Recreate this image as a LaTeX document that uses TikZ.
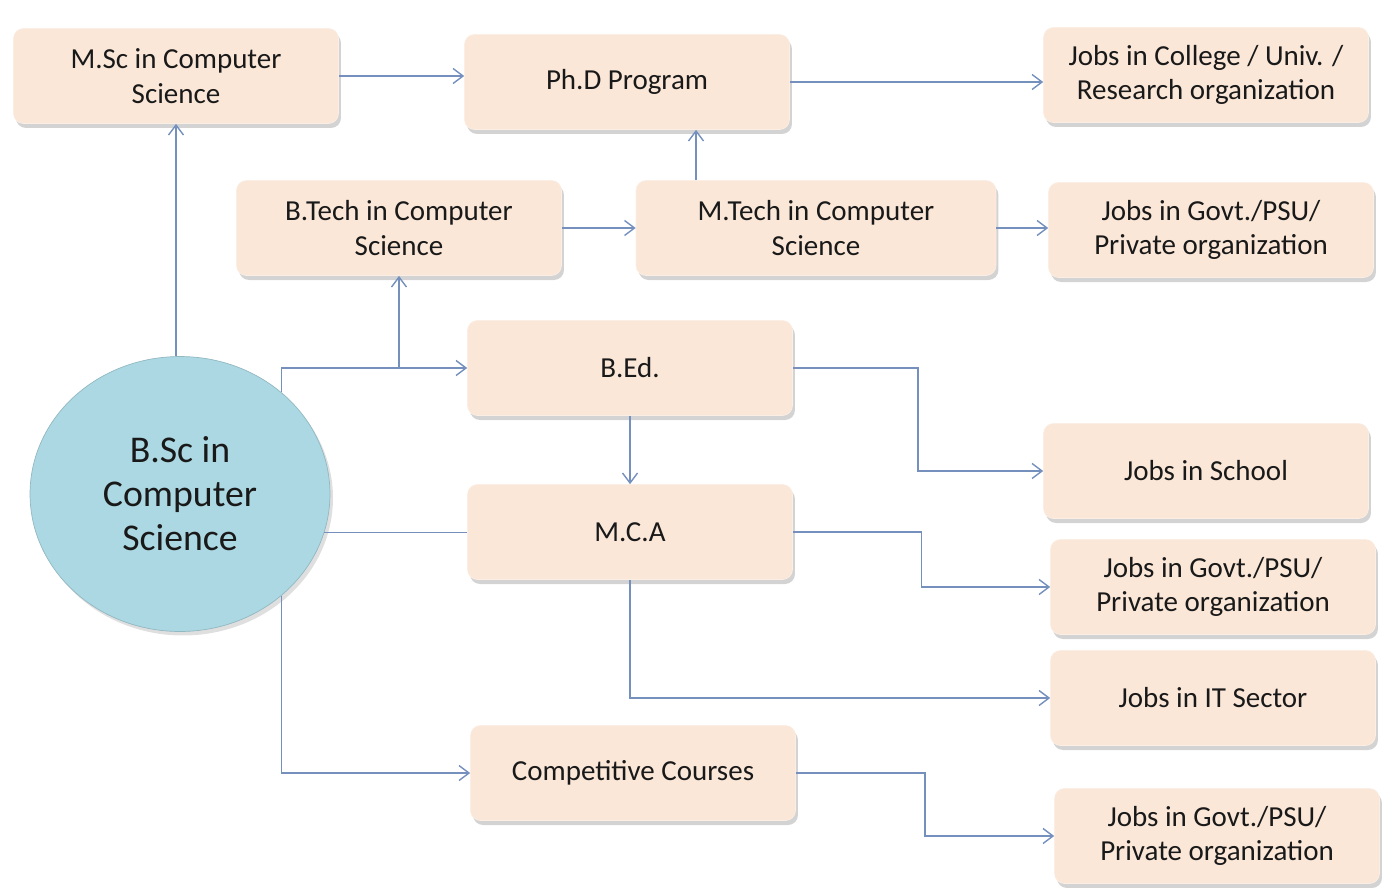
\documentclass[tikz,border=0pt]{standalone}
\usepackage{fontspec}
\setmainfont{Carlito}
\usetikzlibrary{shapes.geometric}
\usetikzlibrary{arrows.meta,calc,shadows}
\definecolor{peach}{RGB}{250,231,216}
\definecolor{skyball}{RGB}{172,216,227}
\definecolor{wire}{RGB}{118,144,190}

\begin{document}
\begin{tikzpicture}
[x=0.02cm,y=-0.02cm,
block/.style ={rectangle, fill=peach, draw=peach!70!white, rounded corners=0.2cm,
minimum width=6.5cm, minimum height=1.9cm, align=center,
text=black!90, font=\fontsize{16.5}{19.5}\selectfont,
drop shadow={opacity=0.35,shadow xshift=0.5mm,shadow yshift=-0.9mm}},
wide/.style ={block, minimum width=7.2cm},
ball/.style ={ellipse, fill=skyball, draw=skyball!85!black,
minimum width=6cm, minimum height=5.5cm, align=center,
text=black!90, font=\fontsize{21.5}{25}\selectfont,
drop shadow={opacity=0.25,shadow xshift=0.6mm,shadow yshift=-0.8mm}},
line/.style ={draw=wire, line width=0.8pt},
arrow/.style ={line, -{Straight Barb[length=2mm,width=3mm]}}]
\useasboundingbox (0,0) rectangle (1391,887);
% left: the degree itself
\node [ball] (bsc) at (180,494) {B.Sc in\\Computer\\Science};
% top rows
\node [block] (msc)   at (176,76)  {M.Sc in Computer\\Science};
\node [block] (phd)   at (627,82)  {Ph.D Program};
\node [block] (jobsA) at (1206,75) {Jobs in College / Univ. /\\Research organization};
\node [block] (btech) at (399,228) {B.Tech in Computer\\Science};
\node [wide]  (mtech) at (816,228) {M.Tech in Computer\\Science};
\node [block] (jobsB) at (1211,230) {Jobs in Govt./PSU/\\Private organization};
% middle column
\node [block] (bed)   at (630,368) {B.Ed.};
\node [block] (mca)   at (630,532) {M.C.A};
\node [block] (comp)  at (633,773) {Competitive Courses};
% right column
\node [block] (school) at (1206,471) {Jobs in School};
\node [block] (jobsC)  at (1213,587) {Jobs in Govt./PSU/\\Private organization};
\node [block] (itsec)  at (1213,698) {Jobs in IT Sector};
\node [block] (jobsD)  at (1217,836) {Jobs in Govt./PSU/\\Private organization};
\coordinate (fork) at (btech.south |- bed.west);
\coordinate (up) at ([xshift=-2.4cm]mtech.north);
\coordinate (rise) at (msc.south |- bsc.north);
\begin{scope}[every path/.style=arrow]
\path (rise) -- (msc.south);
\path (msc.east) -- (msc.east -| phd.west);
\path (phd.east) -- (phd.east -| jobsA.west);
\path (btech.east) -- (btech.east -| mtech.west);
\path (up) -- (up |- phd.south);
\path (mtech.east) -- (mtech.east -| jobsB.west);
\path (bsc.45) |- (bed.west);
\path (fork) -- (btech.south);
\path (bed.south) -- (mca.north);
\path (bed.east) -| ($(bed.east)!0.5!(school.west)$) |- (school.west);
\path (mca.east) -| ($(mca.east)!0.5!(jobsC.west)$) |- (jobsC.west);
\path (mca.south) |- (itsec.west);
\path (bsc.-45) |- (comp.west);
\path (comp.east) -| ($(comp.east)!0.5!(jobsD.west)$) |- (jobsD.west);
\end{scope}
\path [line] (bsc.-15) -- (bsc.-15 -| mca.west);
\end{tikzpicture}
\end{document}
